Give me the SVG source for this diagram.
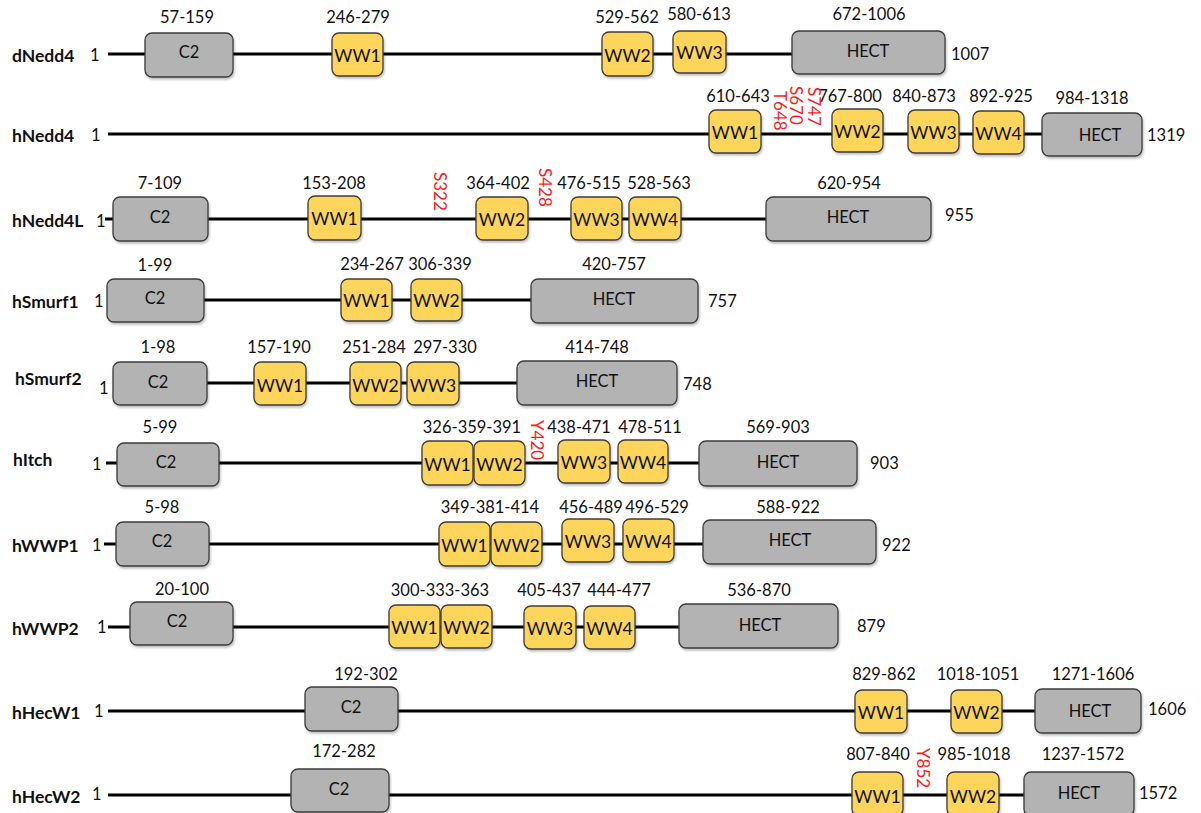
<svg xmlns="http://www.w3.org/2000/svg" width="1201" height="813" viewBox="0 0 1201 813">
<defs>
<filter id="sh" x="-10%" y="-10%" width="130%" height="140%">
<feDropShadow dx="1" dy="2" stdDeviation="1.2" flood-color="#000" flood-opacity="0.25"/>
</filter>
<style>
.ln{stroke:#000;stroke-width:3;fill:none}
.g{fill:#b3b3b3;stroke:#3c3c3c;stroke-width:1.3;filter:url(#sh)}
.y{fill:#fcd55a;stroke:#3c3c3c;stroke-width:1.3;filter:url(#sh)}
text{font-family:Lato,"Open Sans","Liberation Sans",sans-serif;font-size:16.5px;fill:#111;dominant-baseline:central}
.c{text-anchor:middle}
.w{font-size:17.5px}
.nm{font-weight:bold;font-size:17.5px}
.r{fill:#ff1a1a;text-anchor:start;font-size:17px}
</style>
</defs>
<g id="connectors">
<line class="ln" x1="108" y1="54" x2="792" y2="54"/>
<line class="ln" x1="108" y1="134" x2="1042" y2="134"/>
<line class="ln" x1="105" y1="219" x2="766" y2="219"/>
<line class="ln" x1="107" y1="300" x2="531" y2="300"/>
<line class="ln" x1="113" y1="383" x2="517" y2="383"/>
<line class="ln" x1="106" y1="463" x2="699" y2="463"/>
<line class="ln" x1="104" y1="544" x2="703" y2="544"/>
<line class="ln" x1="108" y1="627" x2="679" y2="627"/>
<line class="ln" x1="108" y1="711" x2="1035" y2="711"/>
<line class="ln" x1="108" y1="795" x2="1024" y2="795"/>
</g>
<g id="row-labels">
<text class="nm" x="12" y="55">dNedd4</text><text x="90" y="55">1</text><text x="951" y="54">1007</text>
<text class="nm" x="12" y="135">hNedd4</text><text x="91" y="135">1</text><text x="1147" y="135">1319</text>
<text class="nm" x="12" y="220">hNedd4L</text><text x="96" y="221">1</text><text x="945" y="215">955</text>
<text class="nm" x="12" y="301">hSmurf1</text><text x="94" y="301">1</text><text x="708" y="301">757</text>
<text class="nm" x="15" y="378">hSmurf2</text><text x="99" y="388">1</text><text x="683" y="384">748</text>
<text class="nm" x="13" y="459">hItch</text><text x="92" y="464">1</text><text x="870" y="463">903</text>
<text class="nm" x="12" y="545">hWWP1</text><text x="92" y="545">1</text><text x="882" y="545">922</text>
<text class="nm" x="12" y="628">hWWP2</text><text x="97" y="627">1</text><text x="857" y="626">879</text>
<text class="nm" x="12" y="712">hHecW1</text><text x="94" y="711">1</text><text x="1148" y="709">1606</text>
<text class="nm" x="12" y="796">hHecW2</text><text x="92" y="794">1</text><text x="1139" y="793">1572</text>
</g>
<g id="range-labels">
<text class="c" x="187" y="17">57-159</text><text class="c" x="358" y="17">246-279</text><text class="c" x="627" y="17">529-562</text><text class="c" x="699" y="14">580-613</text><text class="c" x="869" y="14">672-1006</text>
<text class="c" x="738" y="96">610-643</text><text class="c" x="850" y="96">767-800</text><text class="c" x="924" y="96">840-873</text><text class="c" x="1001" y="96">892-925</text><text class="c" x="1092" y="98">984-1318</text>
<text class="c" x="160" y="183">7-109</text><text class="c" x="334" y="183">153-208</text><text class="c" x="498" y="183">364-402</text><text class="c" x="589" y="183">476-515</text><text class="c" x="659" y="183">528-563</text><text class="c" x="849" y="183">620-954</text>
<text class="c" x="155" y="265">1-99</text><text class="c" x="372" y="264">234-267</text><text class="c" x="440" y="264">306-339</text><text class="c" x="614" y="264">420-757</text>
<text class="c" x="158" y="347">1-98</text><text class="c" x="279" y="347">157-190</text><text class="c" x="374" y="347">251-284</text><text class="c" x="445" y="347">297-330</text><text class="c" x="597" y="347">414-748</text>
<text class="c" x="160" y="427">5-99</text><text class="c" x="472" y="427">326-359-391</text><text class="c" x="579" y="427">438-471</text><text class="c" x="650" y="427">478-511</text><text class="c" x="778" y="427">569-903</text>
<text class="c" x="162" y="507">5-98</text><text class="c" x="490" y="507">349-381-414</text><text class="c" x="591" y="507">456-489</text><text class="c" x="657" y="507">496-529</text><text class="c" x="788" y="507">588-922</text>
<text class="c" x="182" y="589">20-100</text><text class="c" x="440" y="590">300-333-363</text><text class="c" x="549" y="590">405-437</text><text class="c" x="619" y="590">444-477</text><text class="c" x="759" y="590">536-870</text>
<text class="c" x="366" y="674">192-302</text><text class="c" x="884" y="674">829-862</text><text class="c" x="978" y="674">1018-1051</text><text class="c" x="1093" y="674">1271-1606</text>
<text class="c" x="344" y="751">172-282</text><text class="c" x="878" y="754">807-840</text><text class="c" x="974" y="754">985-1018</text><text class="c" x="1083" y="754">1237-1572</text>
</g>
<g id="sites">
<text class="r" transform="translate(780,91) rotate(90)">T648</text>
<text class="r" transform="translate(796,86) rotate(90)">S670</text>
<text class="r" transform="translate(814,87) rotate(90)">S747</text>
<text class="r" transform="translate(440,172) rotate(90)">S322</text>
<text class="r" transform="translate(545,168) rotate(90)">S428</text>
<text class="r" transform="translate(537,420) rotate(90)">Y420</text>
<text class="r" transform="translate(923,748) rotate(90)">Y852</text>
</g>
<g id="dNedd4-C2"><rect class="g" x="145" y="33" width="88" height="44" rx="7"/><text class="c" x="189" y="52">C2</text></g>
<g id="dNedd4-WW1"><rect class="y" x="332" y="33" width="51" height="43" rx="7"/><text class="c w" x="357.5" y="55">WW1</text></g>
<g id="dNedd4-WW2"><rect class="y" x="602" y="32" width="51" height="44" rx="7"/><text class="c w" x="627.5" y="55">WW2</text></g>
<g id="dNedd4-WW3"><rect class="y" x="673" y="31" width="53" height="42" rx="7"/><text class="c w" x="699.5" y="52">WW3</text></g>
<g id="dNedd4-HECT"><rect class="g" x="792" y="31" width="153" height="43" rx="7"/><text class="c" x="868" y="51">HECT</text></g>

<g id="hNedd4-WW1"><rect class="y" x="709" y="110" width="52" height="43" rx="7"/><text class="c w" x="735" y="132">WW1</text></g>
<g id="hNedd4-WW2"><rect class="y" x="832" y="109" width="51" height="43" rx="7"/><text class="c w" x="857.5" y="131">WW2</text></g>
<g id="hNedd4-WW3"><rect class="y" x="908" y="110" width="51" height="43" rx="7"/><text class="c w" x="933.5" y="132">WW3</text></g>
<g id="hNedd4-WW4"><rect class="y" x="973" y="111" width="51" height="43" rx="7"/><text class="c w" x="998.5" y="133">WW4</text></g>
<g id="hNedd4-HECT"><rect class="g" x="1042" y="113" width="100" height="43" rx="7"/><text class="c" x="1100" y="135">HECT</text></g>

<g id="hNedd4L-C2"><rect class="g" x="113" y="197" width="95" height="44" rx="7"/><text class="c" x="160" y="217">C2</text></g>
<g id="hNedd4L-WW1"><rect class="y" x="308" y="196" width="53" height="44" rx="7"/><text class="c w" x="334.5" y="218">WW1</text></g>
<g id="hNedd4L-WW2"><rect class="y" x="476" y="197" width="52" height="43" rx="7"/><text class="c w" x="502" y="219">WW2</text></g>
<g id="hNedd4L-WW3"><rect class="y" x="571" y="197" width="51" height="43" rx="7"/><text class="c w" x="596.5" y="219">WW3</text></g>
<g id="hNedd4L-WW4"><rect class="y" x="629" y="197" width="52" height="43" rx="7"/><text class="c w" x="655" y="219">WW4</text></g>
<g id="hNedd4L-HECT"><rect class="g" x="766" y="197" width="165" height="44" rx="7"/><text class="c" x="848" y="217">HECT</text></g>

<g id="hSmurf1-C2"><rect class="g" x="107" y="279" width="97" height="43" rx="7"/><text class="c" x="155" y="298">C2</text></g>
<g id="hSmurf1-WW1"><rect class="y" x="341" y="279" width="51" height="42" rx="7"/><text class="c w" x="366.5" y="300">WW1</text></g>
<g id="hSmurf1-WW2"><rect class="y" x="411" y="279" width="51" height="42" rx="7"/><text class="c w" x="436.5" y="300">WW2</text></g>
<g id="hSmurf1-HECT"><rect class="g" x="531" y="279" width="167" height="44" rx="7"/><text class="c" x="614" y="299">HECT</text></g>

<g id="hSmurf2-C2"><rect class="g" x="113" y="362" width="94" height="43" rx="7"/><text class="c" x="158" y="382">C2</text></g>
<g id="hSmurf2-WW1"><rect class="y" x="254" y="362" width="52" height="43" rx="7"/><text class="c w" x="280" y="385">WW1</text></g>
<g id="hSmurf2-WW2"><rect class="y" x="350" y="362" width="51" height="43" rx="7"/><text class="c w" x="375.5" y="385">WW2</text></g>
<g id="hSmurf2-WW3"><rect class="y" x="407" y="362" width="52" height="43" rx="7"/><text class="c w" x="433" y="385">WW3</text></g>
<g id="hSmurf2-HECT"><rect class="g" x="517" y="361" width="160" height="44" rx="7"/><text class="c" x="597" y="381">HECT</text></g>

<g id="hItch-C2"><rect class="g" x="117" y="443" width="102" height="43" rx="7"/><text class="c" x="166" y="462">C2</text></g>
<g id="hItch-WW1"><rect class="y" x="422" y="441" width="51" height="44" rx="7"/><text class="c w" x="447.5" y="464">WW1</text></g>
<g id="hItch-WW2"><rect class="y" x="474" y="441" width="51" height="44" rx="7"/><text class="c w" x="499.5" y="464">WW2</text></g>
<g id="hItch-WW3"><rect class="y" x="558" y="440" width="52" height="43" rx="7"/><text class="c w" x="584" y="462">WW3</text></g>
<g id="hItch-WW4"><rect class="y" x="618" y="440" width="50" height="43" rx="7"/><text class="c w" x="643" y="462">WW4</text></g>
<g id="hItch-HECT"><rect class="g" x="699" y="441" width="158" height="45" rx="7"/><text class="c" x="778" y="462">HECT</text></g>

<g id="hWWP1-C2"><rect class="g" x="116" y="522" width="93" height="44" rx="7"/><text class="c" x="162" y="541">C2</text></g>
<g id="hWWP1-WW1"><rect class="y" x="439" y="522" width="51" height="44" rx="7"/><text class="c w" x="464.5" y="545">WW1</text></g>
<g id="hWWP1-WW2"><rect class="y" x="491" y="522" width="51" height="44" rx="7"/><text class="c w" x="516.5" y="545">WW2</text></g>
<g id="hWWP1-WW3"><rect class="y" x="562" y="519" width="52" height="43" rx="7"/><text class="c w" x="588" y="541">WW3</text></g>
<g id="hWWP1-WW4"><rect class="y" x="623" y="519" width="51" height="43" rx="7"/><text class="c w" x="648.5" y="541">WW4</text></g>
<g id="hWWP1-HECT"><rect class="g" x="703" y="520" width="173" height="44" rx="7"/><text class="c" x="790" y="540">HECT</text></g>

<g id="hWWP2-C2"><rect class="g" x="130" y="602" width="103" height="43" rx="7"/><text class="c" x="177" y="621">C2</text></g>
<g id="hWWP2-WW1"><rect class="y" x="389" y="605" width="51" height="43" rx="7"/><text class="c w" x="414.5" y="627">WW1</text></g>
<g id="hWWP2-WW2"><rect class="y" x="441" y="605" width="51" height="43" rx="7"/><text class="c w" x="466.5" y="627">WW2</text></g>
<g id="hWWP2-WW3"><rect class="y" x="524" y="606" width="52" height="43" rx="7"/><text class="c w" x="550" y="628">WW3</text></g>
<g id="hWWP2-WW4"><rect class="y" x="584" y="606" width="51" height="43" rx="7"/><text class="c w" x="609.5" y="628">WW4</text></g>
<g id="hWWP2-HECT"><rect class="g" x="679" y="604" width="159" height="44" rx="7"/><text class="c" x="760" y="625">HECT</text></g>

<g id="hHecW1-C2"><rect class="g" x="305" y="687" width="93" height="44" rx="7"/><text class="c" x="351" y="707">C2</text></g>
<g id="hHecW1-WW1"><rect class="y" x="855" y="690" width="52" height="43" rx="7"/><text class="c w" x="881" y="712">WW1</text></g>
<g id="hHecW1-WW2"><rect class="y" x="951" y="690" width="51" height="43" rx="7"/><text class="c w" x="976.5" y="712">WW2</text></g>
<g id="hHecW1-HECT"><rect class="g" x="1035" y="689" width="106" height="44" rx="7"/><text class="c" x="1090" y="711">HECT</text></g>

<g id="hHecW2-C2"><rect class="g" x="291" y="769" width="98" height="43" rx="7"/><text class="c" x="339" y="789">C2</text></g>
<g id="hHecW2-WW1"><rect class="y" x="852" y="772" width="51" height="44" rx="7"/><text class="c w" x="877.5" y="796">WW1</text></g>
<g id="hHecW2-WW2"><rect class="y" x="947" y="772" width="52" height="44" rx="7"/><text class="c w" x="973" y="796">WW2</text></g>
<g id="hHecW2-HECT"><rect class="g" x="1024" y="772" width="110" height="44" rx="7"/><text class="c" x="1079" y="793">HECT</text></g>
</svg>
